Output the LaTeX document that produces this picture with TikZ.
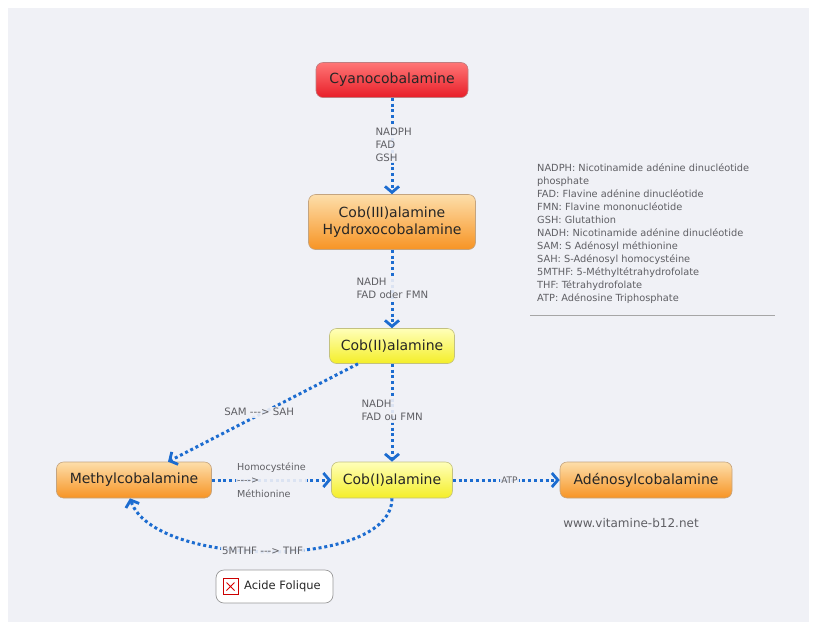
\documentclass[tikz,border=0pt]{standalone}
\usepackage{fontspec}
\setmainfont{DejaVu Sans}
\usetikzlibrary{arrows.meta}
\definecolor{canvas}{RGB}{240,241,246}
\definecolor{flow}{RGB}{28,108,208}
\definecolor{note}{RGB}{95,95,100}
\definecolor{redtop}{RGB}{255,118,118}
\definecolor{redbot}{RGB}{232,30,40}
\definecolor{orgtop}{RGB}{253,222,170}
\definecolor{orgbot}{RGB}{247,148,36}
\definecolor{yeltop}{RGB}{255,255,185}
\definecolor{yelbot}{RGB}{244,238,40}
\tikzset{
  compound/.style={rounded corners=7pt,draw=#1!60!black!55,line width=0.6pt,
    inner sep=2pt,align=center,text=black!85,font=\fontsize{14}{17}\selectfont},
  redbox/.style={compound=redbot,top color=redtop,bottom color=redbot},
  orgbox/.style={compound=orgbot,top color=orgtop,bottom color=orgbot},
  yelbox/.style={compound=yelbot,top color=yeltop,bottom color=yelbot},
  flowline/.style={draw=flow,line width=3pt,dash pattern=on 3pt off 2.8pt,
    -{Straight Barb[length=6pt,width=14pt,line width=2.8pt]}},
  lbl/.style={fill=canvas,fill opacity=0.9,text opacity=1,text=note,inner sep=1.5pt,
    align=left,font=\fontsize{10.2}{13}\selectfont}
}
\begin{document}
\begin{tikzpicture}[x=1pt,y=-1pt]
\useasboundingbox (0,0) rectangle (814,625);
\fill[white] (0,0) rectangle (814,625);
\fill[canvas] (8,8) rectangle (809,622);
% compounds
\node[redbox,minimum width=152pt,minimum height=35pt] (cyano) at (392,80) {Cyanocobalamine};
\node[orgbox,minimum width=167pt,minimum height=55pt] (cobIII) at (392,222) {Cob(III)alamine\\Hydroxocobalamine};
\node[yelbox,minimum width=125pt,minimum height=35pt] (cobII) at (392,346) {Cob(II)alamine};
\node[orgbox,minimum width=155pt,minimum height=36pt] (methyl) at (134,480) {Methylcobalamine};
\node[yelbox,minimum width=121pt,minimum height=36pt] (cobI) at (392,480) {Cob(I)alamine};
\node[orgbox,minimum width=172pt,minimum height=36pt] (adenosyl) at (646,480) {Adénosylcobalamine};
% reactions
\draw[flowline] (cyano) -- (cobIII)
  node[lbl,pos=0.5,anchor=west,xshift=-19.5pt,yshift=1.5pt] {NADPH\\FAD\\GSH};
\draw[flowline] (cobIII) -- (cobII)
  node[lbl,pos=0.5,anchor=west,xshift=-38.5pt,yshift=1pt] {NADH\\FAD oder FMN};
\draw[flowline] (cobII) -- (cobI)
  node[lbl,pos=0.5,anchor=west,xshift=-33.5pt,yshift=2pt] {NADH\\FAD ou FMN};
\draw[flowline] ([xshift=-34pt]cobII.south) -- ([xshift=34pt]methyl.north)
  node[lbl,pos=0.52,yshift=2.5pt] {SAM -{}-{}-> SAH};
\draw[flowline] (methyl) -- (cobI)
  node[lbl,pos=0.5,font=\fontsize{9.6}{13.5}\selectfont] {Homocystéine\\-{}-{}-{}->\\Méthionine};
\draw[flowline] (cobI) -- (adenosyl)
  node[lbl,pos=0.53,font=\fontsize{9}{10}\selectfont] {ATP};
\draw[flowline] (cobI.south) .. controls +(0,72) and +(24,70) .. ([xshift=-4pt]methyl.south)
  node[lbl,pos=0.52,yshift=1pt] {5MTHF -{}-{}-> THF};
% legend
\node[anchor=north west,inner sep=0pt,align=left,text=note,
  font=\fontsize{9.8}{13}\selectfont] (legend) at (537,163)
  {NADPH: Nicotinamide adénine dinucléotide\\phosphate\\FAD: Flavine adénine dinucléotide\\
   FMN: Flavine mononucléotide\\GSH: Glutathion\\NADH: Nicotinamide adénine dinucléotide\\
   SAM: S Adénosyl méthionine\\SAH: S-Adénosyl homocystéine\\5MTHF: 5-Méthyltétrahydrofolate\\
   THF: Tétrahydrofolate\\ATP: Adénosine Triphosphate};
\draw[black!35,line width=1pt] (530,315) -- (775,315);
\node[text=note,font=\fontsize{12}{14}\selectfont] (site) at (631,523) {www.vitamine-b12.net};
% folic acid
\node[draw=black!40,fill=white,rounded corners=8pt,minimum width=117pt,minimum height=33pt,
  line width=0.7pt,text=black!85,font=\fontsize{11.5}{13}\selectfont] (folique) at (274.5,586.5) {\hspace*{16pt}Acide Folique};
\node[draw=red!80!black,fill=white,line width=1pt,minimum width=15pt,minimum height=16pt,inner sep=0pt,
  path picture={\draw[red!85!black,line width=0.8pt]
    ([shift={(3.5pt,4pt)}]path picture bounding box.south west) -- ([shift={(-3.5pt,-4pt)}]path picture bounding box.north east)
    ([shift={(3.5pt,-4pt)}]path picture bounding box.north west) -- ([shift={(-3.5pt,4pt)}]path picture bounding box.south east);}]
  (icon) at (230.5,586.5) {};
\end{tikzpicture}
\end{document}
